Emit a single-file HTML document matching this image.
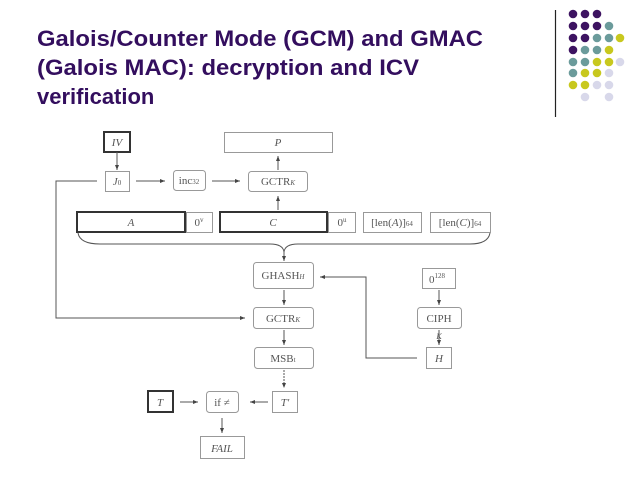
<!DOCTYPE html>
<html><head><meta charset="utf-8"><style>
html,body{margin:0;padding:0;background:#fff;}
svg{display:block;}
.t{font-family:"Liberation Serif",serif;font-size:11px;fill:#555;}
</style></head><body>
<svg width="638" height="479" viewBox="0 0 638 479" xmlns="http://www.w3.org/2000/svg">
<defs><marker id="a" markerWidth="6" markerHeight="6" refX="5" refY="3" orient="auto" markerUnits="userSpaceOnUse"><path d="M0,1 L5,3 L0,5z" fill="#444"/></marker></defs>
<g font-family="Liberation Sans, Arial, sans-serif" font-weight="bold" font-size="22" fill="#330e5e">
<text x="37" y="46" textLength="446" lengthAdjust="spacingAndGlyphs">Galois/Counter Mode (GCM) and GMAC</text>
<text x="37" y="75" textLength="382" lengthAdjust="spacingAndGlyphs">(Galois MAC): decryption and ICV</text>
<text x="37" y="104">verification</text>
</g>
<line x1="555.5" y1="10" x2="555.5" y2="117" stroke="#222" stroke-width="1.2"/>
<g>
<circle cx="573" cy="14" r="4.3" fill="#3d1361"/><circle cx="585" cy="14" r="4.3" fill="#3d1361"/><circle cx="597" cy="14" r="4.3" fill="#3d1361"/>
<circle cx="573" cy="26" r="4.3" fill="#3d1361"/><circle cx="585" cy="26" r="4.3" fill="#3d1361"/><circle cx="597" cy="26" r="4.3" fill="#3d1361"/><circle cx="609" cy="26" r="4.3" fill="#6b9b9b"/>
<circle cx="573" cy="38" r="4.3" fill="#3d1361"/><circle cx="585" cy="38" r="4.3" fill="#3d1361"/><circle cx="597" cy="38" r="4.3" fill="#6b9b9b"/><circle cx="609" cy="38" r="4.3" fill="#6b9b9b"/><circle cx="620" cy="38" r="4.3" fill="#c8c81e"/>
<circle cx="573" cy="50" r="4.3" fill="#3d1361"/><circle cx="585" cy="50" r="4.3" fill="#6b9b9b"/><circle cx="597" cy="50" r="4.3" fill="#6b9b9b"/><circle cx="609" cy="50" r="4.3" fill="#c8c81e"/>
<circle cx="573" cy="62" r="4.3" fill="#6b9b9b"/><circle cx="585" cy="62" r="4.3" fill="#6b9b9b"/><circle cx="597" cy="62" r="4.3" fill="#c8c81e"/><circle cx="609" cy="62" r="4.3" fill="#c8c81e"/><circle cx="620" cy="62" r="4.3" fill="#d8d8ea"/>
<circle cx="573" cy="73" r="4.3" fill="#6b9b9b"/><circle cx="585" cy="73" r="4.3" fill="#c8c81e"/><circle cx="597" cy="73" r="4.3" fill="#c8c81e"/><circle cx="609" cy="73" r="4.3" fill="#d8d8ea"/>
<circle cx="573" cy="85" r="4.3" fill="#c8c81e"/><circle cx="585" cy="85" r="4.3" fill="#c8c81e"/><circle cx="597" cy="85" r="4.3" fill="#d8d8ea"/><circle cx="609" cy="85" r="4.3" fill="#d8d8ea"/>
<circle cx="585" cy="97" r="4.3" fill="#d8d8ea"/><circle cx="609" cy="97" r="4.3" fill="#d8d8ea"/>
</g>
<g fill="#fff" stroke="#999" stroke-width="1">
<rect x="104" y="132" width="26" height="20" stroke="#333" stroke-width="2"/>
<rect x="224.5" y="132.5" width="108" height="20"/>
<rect x="105.5" y="171.5" width="24" height="20"/>
<rect x="173.5" y="170.5" width="32" height="20" rx="3"/>
<rect x="248.5" y="171.5" width="59" height="20" rx="3"/>
<rect x="77" y="212" width="108" height="20" stroke="#333" stroke-width="2"/>
<rect x="186.5" y="212.5" width="26" height="20"/>
<rect x="220" y="212" width="107" height="20" stroke="#333" stroke-width="2"/>
<rect x="328.5" y="212.5" width="27" height="20"/>
<rect x="363.5" y="212.5" width="58" height="20"/>
<rect x="430.5" y="212.5" width="60" height="20"/>
<rect x="253.5" y="262.5" width="60" height="26" rx="3"/>
<rect x="253.5" y="307.5" width="60" height="21" rx="3"/>
<rect x="254.5" y="347.5" width="59" height="21" rx="3"/>
<rect x="272.5" y="391.5" width="25" height="21"/>
<rect x="206.5" y="391.5" width="32" height="21" rx="3"/>
<rect x="148" y="391" width="25" height="21" stroke="#333" stroke-width="2"/>
<rect x="200.5" y="436.5" width="44" height="22"/>
<rect x="422.5" y="268.5" width="33" height="20"/>
<rect x="417.5" y="307.5" width="44" height="21" rx="3"/>
<rect x="426.5" y="347.5" width="25" height="21"/>
</g>
<g fill="none" stroke="#555" stroke-width="1">
<line x1="117" y1="152" x2="117" y2="170" marker-end="url(#a)"/>
<line x1="136" y1="181" x2="165" y2="181" marker-end="url(#a)"/>
<line x1="212" y1="181" x2="240" y2="181" marker-end="url(#a)"/>
<line x1="278" y1="210" x2="278" y2="196" marker-end="url(#a)"/>
<line x1="278" y1="170" x2="278" y2="156" marker-end="url(#a)"/>
<polyline points="97,181 56,181 56,318 245,318" marker-end="url(#a)"/>
<path d="M78,233 Q80,244 100,244 L270,244 Q283,244 284,252 Q285,244 298,244 L470,244 Q488,244 490,233"/>
<line x1="284" y1="252" x2="284" y2="261" marker-end="url(#a)"/>
<line x1="284" y1="290" x2="284" y2="305" marker-end="url(#a)"/>
<line x1="284" y1="330" x2="284" y2="345" marker-end="url(#a)"/>
<line x1="284" y1="370" x2="284" y2="388" marker-end="url(#a)" stroke-dasharray="2,1"/>
<line x1="268" y1="402" x2="250" y2="402" marker-end="url(#a)"/>
<line x1="180" y1="402" x2="198" y2="402" marker-end="url(#a)"/>
<line x1="222" y1="418" x2="222" y2="433" marker-end="url(#a)"/>
<line x1="439" y1="290" x2="439" y2="305" marker-end="url(#a)"/>
<line x1="439" y1="330" x2="439" y2="345" marker-end="url(#a)"/>
<polyline points="417,358 366,358 366,277 320,277" marker-end="url(#a)"/>
</g>
<g class="t" text-anchor="middle">
<text x="117" y="146" font-style="italic">IV</text>
<text x="278" y="146" font-style="italic">P</text>
<text x="117" y="185"><tspan font-style="italic">J</tspan><tspan font-size="7">0</tspan></text>
<text x="189" y="184">inc<tspan font-size="7">32</tspan></text>
<text x="278" y="185">GCTR<tspan font-size="7" font-style="italic">K</tspan></text>
<text x="131" y="226" font-style="italic">A</text>
<text x="199" y="226">0<tspan font-size="7" dy="-4">v</tspan></text>
<text x="273" y="226" font-style="italic">C</text>
<text x="342" y="226">0<tspan font-size="7" dy="-4">u</tspan></text>
<text x="392" y="226">[len(<tspan font-style="italic">A</tspan>)]<tspan font-size="7">64</tspan></text>
<text x="460" y="226">[len(<tspan font-style="italic">C</tspan>)]<tspan font-size="7">64</tspan></text>
<text x="283" y="279">GHASH<tspan font-size="7" font-style="italic">H</tspan></text>
<text x="283" y="322">GCTR<tspan font-size="7" font-style="italic">K</tspan></text>
<text x="283" y="362">MSB<tspan font-size="7">t</tspan></text>
<text x="285" y="406" font-style="italic">T′</text>
<text x="222" y="406">if ≠</text>
<text x="160" y="406" font-style="italic">T</text>
<text x="222" y="452" font-style="italic">FAIL</text>
<text x="437" y="283">0<tspan font-size="7" dy="-5">128</tspan></text>
<text x="439" y="322">CIPH</text>
<text x="439" y="339" font-size="8" font-style="italic">K</text>
<text x="439" y="362" font-style="italic">H</text>
</g>
</svg>
</body></html>
